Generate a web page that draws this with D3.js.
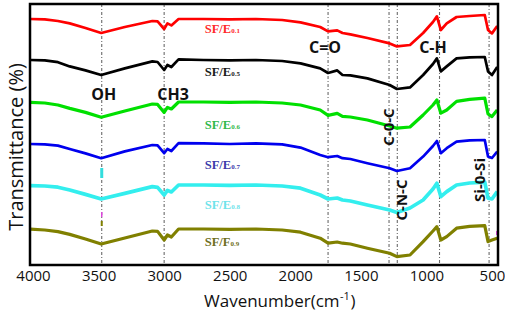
<!DOCTYPE html>
<html>
<head>
<meta charset="utf-8">
<script src="https://cdn.jsdelivr.net/npm/d3@7"></script>
<style>
  html, body { margin: 0; padding: 0; background: #fff; }
  svg { display: block; }
</style>
</head>
<body>
<svg id="chart" width="505" height="313"></svg>
<script>
// wavenumber grid (cm-1) the spectra are sampled on
const wavenumbers = [4020, 3910, 3810, 3720, 3600, 3480, 3300, 3090, 3050, 3000, 2975, 2945, 2890, 2700, 2500, 2300, 2100, 1960, 1810, 1750, 1680, 1640, 1580, 1450, 1280, 1225, 1125, 1025, 950, 920, 890, 845, 770, 670, 555, 530, 500, 460]

// stacked transmittance (offset per sample)
const sfe01 = [123, 122.8, 122, 120.8, 118.5, 116, 119, 122, 121.8, 118, 120.8, 119.8, 123, 123, 122.8, 123, 122.5, 121.3, 119, 116.8, 117.3, 116, 115.3, 113.5, 110.8, 109.3, 110, 116, 121.5, 124.3, 117.5, 120.8, 124, 124.5, 125, 117.5, 115.8, 119.5]
const sfe05 = [102.5, 102.3, 101.4, 99.3, 97.3, 95, 98.3, 101.8, 101.5, 97.5, 100, 99, 102.8, 102.5, 102.3, 102.5, 102, 100.8, 98.3, 96, 97.3, 95, 94.8, 93.3, 90, 88, 88.8, 95, 100.5, 103.3, 96.8, 99.3, 103.3, 103.8, 104, 96.8, 95, 99]
const sfe06 = [81.3, 81, 80, 78.3, 76.3, 73.9, 77, 80.5, 80.3, 76.3, 78.8, 78, 81.5, 81.5, 81.3, 81.5, 81, 80, 77.5, 74.8, 75.8, 74.3, 74, 72.5, 69.5, 68.4, 69, 75, 80, 82.5, 75.9, 77.5, 81.8, 82.8, 83.4, 75.5, 74.2, 77.5]
const sfe07 = [60.5, 60.3, 59.7, 58, 55.8, 53.4, 56.8, 60, 59.8, 55.9, 58, 57, 60.9, 60.8, 60.5, 60.8, 60.3, 58.7, 55, 53.9, 54.5, 53.4, 53, 50.9, 48.4, 47, 48.4, 54.2, 59.5, 62, 55.9, 58.4, 61.7, 62.3, 62.5, 54.2, 53.5, 56.7]
const sfe08 = [39.7, 39.5, 38.9, 37.5, 35.3, 33, 35.8, 39.2, 38.8, 35, 37.3, 36.5, 40, 40, 39.8, 40, 39.5, 38.4, 35, 33, 33.5, 32.5, 32, 30, 27.5, 26.3, 28.5, 32.5, 38, 40.9, 34.2, 36.7, 40, 41, 41.4, 33.4, 33, 36.7]
const sfe09 = [17.9, 17.5, 16.7, 15.3, 13, 10.5, 13.5, 17, 16.8, 12.5, 15, 14, 18, 18, 17.8, 18, 17.5, 16.4, 13.4, 10.9, 11.5, 10.9, 10.5, 8.4, 5.9, 4.2, 5, 11.7, 17, 19.2, 12.5, 14.2, 18.4, 19.3, 19.7, 11.7, 12.5, 13.4]

const sampleNames = ['SF/E', 'SF/E', 'SF/E', 'SF/E', 'SF/E', 'SF/F']
const sampleSubs = ['0.1', '0.5', '0.6', '0.7', '0.8', '0.9']
const lineColors = ['#ff0000', '#000000', '#00e000', '#0000ee', '#33eeee', '#808000']
const labelColors = ['#ff2a2a', '#1a1a1a', '#2fb84a', '#3a3aaa', '#6fe3ea', '#6e6e20']
const lineWidths = [2.7, 2.7, 3.2, 2.7, 3.7, 3.2]

const bandLines = [3476, 3000, 1750, 1285, 1222, 900, 522]
const xTicks = [4000, 3500, 3000, 2500, 2000, 1500, 1000, 500]

const width = 505
const height = 313
const margin = {top: 4, right: 7, bottom: 48, left: 30}

const svg = d3.select('#chart')

const x = d3.scaleLinear()
  .domain([4023, 454])
  .range([margin.left, width - margin.right])
const y = d3.scaleLinear()
  .domain([0, 130.5])
  .range([height - margin.bottom, margin.top])

const series = [sfe01, sfe05, sfe06, sfe07, sfe08, sfe09].map((values, i) => ({
  name: sampleNames[i],
  sub: sampleSubs[i],
  color: lineColors[i],
  labelColor: labelColors[i],
  lw: lineWidths[i],
  points: wavenumbers.map((w, j) => [w, values[j]])
}))

// dash-dot band markers
svg.append('g').selectAll('line').data(bandLines).enter()
  .append('line')
  .attr('x1', d => x(d)).attr('x2', d => x(d))
  .attr('y1', y(130.5)).attr('y2', y(0))
  .attr('stroke', '#6a6a6a')
  .attr('stroke-width', 1.1)
  .attr('stroke-dasharray', '3,2,1,2')

// stray colour specks from the original figure
const specks = [
  {w: 3476, lo: 43.5, hi: 48.5, c: '#33dddd', sw: 3},
  {w: 3476, lo: 24, hi: 26.5, c: '#dd44dd', sw: 1.5},
  {w: 3476, lo: 19.5, hi: 22, c: '#808000', sw: 2},
  {w: 458, lo: 15, hi: 17, c: '#ee22ee', sw: 2.5}
]
svg.append('g').selectAll('line').data(specks).enter()
  .append('line')
  .attr('x1', d => x(d.w)).attr('x2', d => x(d.w))
  .attr('y1', d => y(d.lo)).attr('y2', d => y(d.hi))
  .attr('stroke', d => d.c)
  .attr('stroke-width', d => d.sw)

const line = d3.line()
  .x(d => x(d[0]))
  .y(d => y(d[1]))

svg.append('g').selectAll('path').data(series).enter()
  .append('path')
  .attr('d', d => line(d.points))
  .attr('fill', 'none')
  .attr('stroke', d => d.color)
  .attr('stroke-width', d => d.lw)
  .attr('stroke-linejoin', 'round')

// sample labels
const labelBase = [33, 76, 129, 169, 209, 246]
const lbl = svg.append('g').selectAll('text').data(series).enter()
  .append('text')
  .attr('x', x(2690))
  .attr('y', (d, i) => labelBase[i])
  .attr('fill', d => d.labelColor)
  .style('font-family', '"Liberation Serif", "DejaVu Serif", serif')
  .style('font-weight', 'bold')
  .style('font-size', '12.5px')
lbl.append('tspan').text(d => d.name)
lbl.append('tspan').text(d => d.sub).style('font-size', '7px')

// band annotations
const peakLabels = [
  {text: 'OH', w: 3460, top: 100},
  {text: 'CH3', w: 2932, top: 100},
  {text: 'C=O', w: 1773, top: 53},
  {text: 'C-H', w: 950, top: 53}
]
svg.append('g').selectAll('text').data(peakLabels).enter()
  .append('text')
  .attr('x', d => x(d.w))
  .attr('y', d => d.top)
  .attr('text-anchor', 'middle')
  .text(d => d.text)
  .style('font-family', '"Open Sans", sans-serif')
  .style('font-weight', 'bold')
  .style('font-size', '16px')
  .attr('fill', '#111')

const sideLabels = [
  {text: 'C-0-C', w: 1247, mid: 127},
  {text: 'C-N-C', w: 1148, mid: 200},
  {text: 'Si-0-Si', w: 553, mid: 180}
]
svg.append('g').selectAll('text').data(sideLabels).enter()
  .append('text')
  .attr('transform', d => `translate(${x(d.w)},${d.mid}) rotate(-90)`)
  .attr('text-anchor', 'middle')
  .text(d => d.text)
  .style('font-family', '"Open Sans", sans-serif')
  .style('font-weight', 'bold')
  .style('font-size', '15px')
  .attr('fill', '#111')

// axes
const xAxis = d3.axisBottom(x)
  .tickValues(xTicks)
  .tickSize(0)
  .tickPadding(5)
  .tickFormat(d3.format('d'))

const gx = svg.append('g')
  .attr('transform', `translate(0,${y(0)})`)
  .call(xAxis)
gx.select('.domain').remove()
gx.selectAll('text')
  .style('font-family', '"Open Sans", sans-serif')
  .style('font-size', '15px')
  .attr('fill', '#111')

// frame
svg.append('rect')
  .attr('x', margin.left)
  .attr('y', margin.top)
  .attr('width', width - margin.left - margin.right)
  .attr('height', y(0) - margin.top)
  .attr('fill', 'none')
  .attr('stroke', '#000')
  .attr('stroke-width', 2.5)

// x title, superscript drawn as its own text
const titleFont = '"Open Sans", sans-serif'
const titleBase = 307
const xtMain = svg.append('text')
  .attr('x', 204)
  .attr('y', titleBase)
  .text('Wavenumber(cm')
  .style('font-family', titleFont)
  .style('font-size', '17px')
  .attr('fill', '#111')
const mainW = xtMain.node().getComputedTextLength()
const xtSup = svg.append('text')
  .attr('x', 204 + mainW + 0.5)
  .attr('y', titleBase - 7)
  .text('-1')
  .style('font-family', titleFont)
  .style('font-size', '11px')
  .attr('fill', '#111')
const supW = xtSup.node().getComputedTextLength()
svg.append('text')
  .attr('x', 204 + mainW + supW + 1)
  .attr('y', titleBase)
  .text(')')
  .style('font-family', titleFont)
  .style('font-size', '17px')
  .attr('fill', '#111')

svg.append('text')
  .attr('transform', 'translate(23,147) rotate(-90)')
  .attr('text-anchor', 'middle')
  .text('Transmittance (%)')
  .style('font-family', titleFont)
  .style('font-size', '20px')
  .attr('fill', '#111')
</script>
</body>
</html>
